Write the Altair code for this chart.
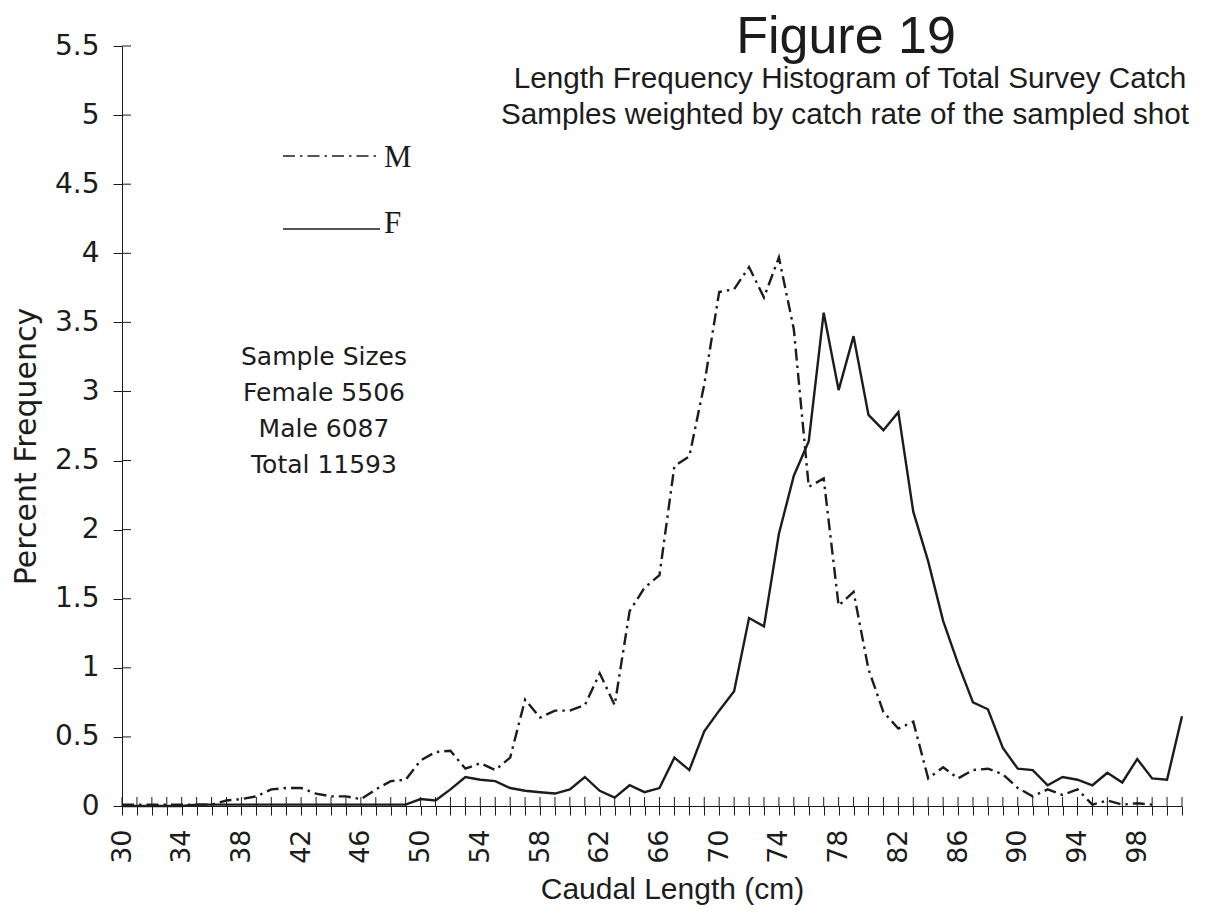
import altair as alt
import pandas as pd

# Caudal length classes (cm), one point per centimetre
length_cm = list(range(30, 102))

# Percent frequency, females (30..101 cm)
female_pct = [
    0.00, 0.00, 0.00, 0.00, 0.00, 0.01, 0.01, 0.01, 0.01, 0.01,   # 30-39
    0.01, 0.01, 0.01, 0.01, 0.01, 0.01, 0.01, 0.01, 0.01, 0.01,   # 40-49
    0.05, 0.04, 0.12, 0.21, 0.19, 0.18, 0.13, 0.11, 0.10, 0.09,   # 50-59
    0.12, 0.21, 0.11, 0.06, 0.15, 0.10, 0.13, 0.35, 0.26, 0.54,   # 60-69
    0.69, 0.83, 1.36, 1.30, 1.97, 2.39, 2.64, 3.57, 3.01, 3.40,   # 70-79
    2.83, 2.72, 2.85, 2.13, 1.77, 1.34, 1.03, 0.75, 0.70, 0.42,   # 80-89
    0.27, 0.26, 0.15, 0.21, 0.19, 0.15, 0.24, 0.17, 0.34, 0.20,   # 90-99
    0.19, 0.65,                                                   # 100-101
]

# Percent frequency, males (30..99 cm)
male_pct = [
    0.01, 0.01, 0.01, 0.01, 0.01, 0.01, 0.01, 0.04, 0.05, 0.07,   # 30-39
    0.12, 0.13, 0.13, 0.09, 0.07, 0.07, 0.05, 0.12, 0.18, 0.19,   # 40-49
    0.33, 0.39, 0.40, 0.27, 0.31, 0.26, 0.35, 0.77, 0.64, 0.69,   # 50-59
    0.69, 0.73, 0.96, 0.73, 1.41, 1.58, 1.67, 2.46, 2.53, 3.05,   # 60-69
    3.72, 3.74, 3.90, 3.68, 3.97, 3.45, 2.31, 2.37, 1.45, 1.55,   # 70-79
    0.99, 0.68, 0.56, 0.61, 0.20, 0.28, 0.20, 0.26, 0.27, 0.23,   # 80-89
    0.13, 0.07, 0.12, 0.08, 0.12, 0.01, 0.04, 0.01, 0.02, 0.01,   # 90-99
]

y_ticks = [0, 0.5, 1, 1.5, 2, 2.5, 3, 3.5, 4, 4.5, 5, 5.5]

sample_groups = ["Female", "Male", "Total"]
sample_counts = [5506, 6087, 11593]

fig_title = "Figure 19"
subtitle_lines = [
    "Length Frequency Histogram of Total Survey Catch",
    "Samples weighted by catch rate of the sampled shot",
]

ink = "#1c1c1c"
sans = "DejaVu Sans"
plain = "Liberation Sans"
serif = "Liberation Serif"
dash_dot = [12, 5, 2.5, 5]

W, H = 1060, 760

female_df = pd.DataFrame({"cm": length_cm, "pct": female_pct})
male_df = pd.DataFrame({"cm": length_cm[: len(male_pct)], "pct": male_pct})

x_scale = alt.Scale(domain=[30, 101], nice=False, zero=False)
y_scale = alt.Scale(domain=[0, 5.5], nice=False)

x_axis = alt.Axis(
    values=length_cm,
    labelExpr="(datum.value - 30) % 4 === 0 ? datum.label : ''",
    labelAngle=270,
    labelFont=sans,
    labelFontSize=27,
    labelColor=ink,
    labelPadding=14,
    labelOverlap=False,
    labelFlush=False,
    tickSize=9,
    tickColor=ink,
    domainColor=ink,
    grid=False,
    title="Caudal Length (cm)",
    titleFont=plain,
    titleFontSize=30,
    titleFontWeight="normal",
    titleColor=ink,
    titleX=550,
    titleY=92,
    titleBaseline="alphabetic",
)

y_axis = alt.Axis(
    values=y_ticks,
    format="~g",
    labelFont=sans,
    labelFontSize=28,
    labelColor=ink,
    labelPadding=14,
    tickSize=9,
    tickColor=ink,
    domainColor=ink,
    grid=False,
    title="Percent Frequency",
    titleFont=sans,
    titleFontSize=30,
    titleFontWeight="normal",
    titleColor=ink,
    titleAngle=270,
    titleX=-87,
    titleY=400,
    titleAlign="center",
    titleBaseline="alphabetic",
)

X = alt.X("cm:Q", scale=x_scale, axis=x_axis, title="Caudal Length (cm)")
Y = alt.Y("pct:Q", scale=y_scale, axis=y_axis, title="Percent Frequency")

female_line = alt.Chart(female_df).mark_line(color=ink, strokeWidth=2.4).encode(x=X, y=Y)
male_line = alt.Chart(male_df).mark_line(
    color=ink, strokeWidth=2.4, strokeDash=dash_dot
).encode(x=X, y=Y)

# Inner halves of the crossing tick marks
y_inner = alt.Chart(pd.DataFrame({"pct": y_ticks})).mark_rule(color=ink, strokeWidth=1).encode(
    y=Y, x=alt.value(0), x2=alt.value(9)
)
x_inner = alt.Chart(pd.DataFrame({"cm": length_cm})).mark_rule(color=ink, strokeWidth=1).encode(
    x=X, y=alt.value(H), y2=alt.value(H - 9)
)

one = pd.DataFrame({"k": [0]})

title_mark = alt.Chart(one).mark_text(
    text=fig_title, font=plain, fontSize=52, color=ink,
    align="center", baseline="alphabetic",
).encode(x=alt.value(724), y=alt.value(7))

sub1 = alt.Chart(one).mark_text(
    text=subtitle_lines[0], font=plain, fontSize=29.7, color=ink,
    align="center", baseline="alphabetic",
).encode(x=alt.value(728), y=alt.value(42))

sub2 = alt.Chart(one).mark_text(
    text=subtitle_lines[1], font=plain, fontSize=29.7, color=ink,
    align="center", baseline="alphabetic",
).encode(x=alt.value(723), y=alt.value(78))

sample_text = "\n".join(
    ["Sample Sizes"] + [f"{g} {n}" for g, n in zip(sample_groups, sample_counts)]
)
samples = alt.Chart(one).mark_text(
    text=sample_text, lineBreak="\n", lineHeight=36, font=sans, fontSize=25,
    color=ink, align="center", baseline="alphabetic",
).encode(x=alt.value(202), y=alt.value(319))

# Hand-drawn style key
key_m_line = alt.Chart(one).mark_rule(color=ink, strokeWidth=1.6, strokeDash=dash_dot).encode(
    x=alt.value(161), x2=alt.value(258), y=alt.value(110)
)
key_f_line = alt.Chart(one).mark_rule(color=ink, strokeWidth=1.6).encode(
    x=alt.value(161), x2=alt.value(258), y=alt.value(183)
)
key_m = alt.Chart(one).mark_text(
    text="M", font=serif, fontSize=31, color=ink, align="left", baseline="alphabetic"
).encode(x=alt.value(262), y=alt.value(121))
key_f = alt.Chart(one).mark_text(
    text="F", font=serif, fontSize=31, color=ink, align="left", baseline="alphabetic"
).encode(x=alt.value(262), y=alt.value(187))

chart = alt.layer(
    x_inner, y_inner, female_line, male_line,
    title_mark, sub1, sub2, samples, key_m_line, key_f_line, key_m, key_f,
).properties(
    width=W,
    height=H,
    padding={"left": 122, "top": 46, "right": 24, "bottom": 107},
    autosize=alt.AutoSizeParams(type="none"),
    background="white",
).configure_view(stroke=None)

chart.save("out.html", embed_options={"renderer": "svg", "actions": False})
